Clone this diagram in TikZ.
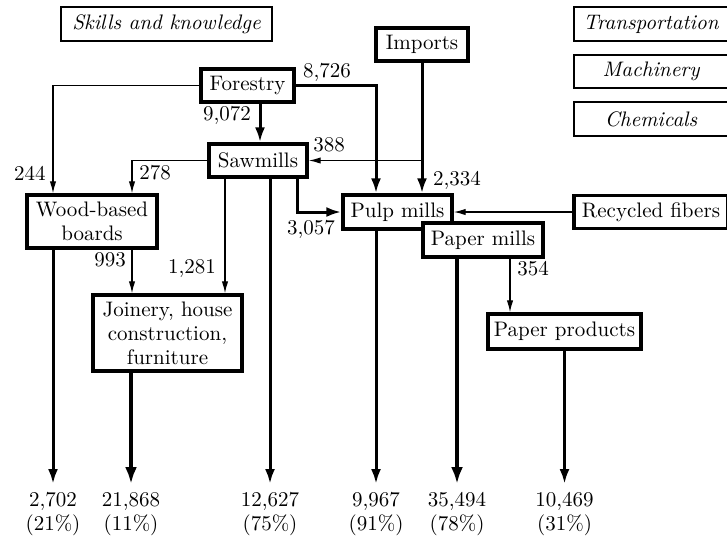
\documentclass[tikz,border=0pt]{standalone}
\usetikzlibrary{arrows.meta}

\newcommand{\flowsize}{\fontsize{10.5}{12}\selectfont}

\tikzset{
  unit/.style={draw, line width=1.7pt, fill=white, inner sep=1pt, align=center, font=\flowsize},
  factor/.style={draw, line width=1.2pt, fill=white, inner sep=1pt, font=\flowsize\itshape},
  amount/.style={inner sep=1pt, font=\flowsize},
  output/.style={anchor=north, inner xsep=1pt, inner ysep=4pt, align=center, font=\flowsize},
  thinflow/.style={line width=0.6pt, -{Latex[length=6pt,width=3.2pt]}},
  flow/.style={line width=1.5pt, -{Latex[length=7.5pt,width=5pt]}},
  bigflow/.style={line width=2.3pt, -{Latex[length=8.5pt,width=6pt]}}
}

\begin{document}
\begin{tikzpicture}[x=0.5pt, y=-0.5pt]
\useasboundingbox (0,0) rectangle (727,537);

% factors
\node[factor, minimum width=105.5pt, minimum height=17pt] (skills) at (166.5,24) {Skills and knowledge};
\node[factor, minimum width=77pt, minimum height=17pt] (transport) at (651,24) {Transportation};
\node[factor, minimum width=77pt, minimum height=16.5pt] (machinery) at (651,71.5) {Machinery};
\node[factor, minimum width=77pt, minimum height=17pt] (chemicals) at (651,119) {Chemicals};

% units
\node[unit, minimum width=46.5pt, minimum height=16.5pt] (forestry) at (247.5,85.5) {Forestry};
\node[unit, minimum width=46pt, minimum height=16.5pt] (imports) at (422,44.5) {Imports};
\node[unit, minimum width=49pt, minimum height=16.5pt] (sawmills) at (258,160.5) {Sawmills};
\node[unit, minimum width=65pt, minimum height=26.5pt] (boards) at (92,221.5) {Wood-based\\boards};
\node[unit, minimum width=74.5pt, minimum height=38pt] (joinery) at (167.5,333) {Joinery, house\\construction,\\furniture};
\node[unit, minimum width=54.5pt, minimum height=17pt] (pulp) at (397.5,212) {Pulp mills};
\node[unit, minimum width=60pt, minimum height=17pt] (paper) at (483,240) {Paper mills};
\node[unit, minimum width=77pt, minimum height=16.5pt] (recycled) at (651,212) {Recycled fibers};
\node[unit, minimum width=76.5pt, minimum height=17.5pt] (products) at (564.5,331.5) {Paper products};

% outputs
\node[output] (outboards) at (53,484) {2,702\\(21\%)};
\node[output] (outjoinery) at (131,484) {21,868\\(11\%)};
\node[output] (outsaw) at (270,484) {12,627\\(75\%)};
\node[output] (outpulp) at (376,484) {9,967\\(91\%)};
\node[output] (outpaper) at (457,484) {35,494\\(78\%)};
\node[output] (outproducts) at (564.5,484) {10,469\\(31\%)};

\coordinate (split) at (imports.south |- sawmills.east);

% flows
\draw[thinflow] (forestry.west) -| (53,0 |- boards.north);
\draw[flow] (forestry.south -| 260,0) -- (260,0 |- sawmills.north);
\draw[flow] (forestry.east) -| (376,0 |- pulp.north);
\draw[flow] (imports.south) -- (imports.south |- pulp.north);
\draw[thinflow] (split) -- (sawmills.east);
\draw[thinflow] (sawmills.west) -| (132,0 |- boards.north);
\draw[flow] (sawmills.south -| 297,0) |- (pulp.west);
\draw[thinflow] (sawmills.south -| 225,0) -- (225,0 |- joinery.north);
\draw[flow] (sawmills.south -| outsaw.north) -- (outsaw.north);
\draw[thinflow] (boards.south -| 132,0) -- (132,0 |- joinery.north);
\draw[flow] (boards.south -| outboards.north) -- (outboards.north);
\draw[bigflow] (joinery.south -| outjoinery.north) -- (outjoinery.north);
\draw[flow] (pulp.south -| outpulp.north) -- (outpulp.north);
\draw[bigflow] (paper.south -| outpaper.north) -- (outpaper.north);
\draw[thinflow] (paper.south -| 510,0) -- (510,0 |- products.north);
\draw[thinflow] (recycled.west) -- (pulp.east);
\draw[flow] (products.south) -- (outproducts.north);

% amounts
\node[amount] (n244) at (30,173) {244};
\node[amount] (n278) at (155,173) {278};
\node[amount] (n8726) at (327,72) {8,726};
\node[amount] (n9072) at (227,115) {9,072};
\node[amount] (n388) at (329,145) {388};
\node[amount] (n2334) at (457,180) {2,334};
\node[amount] (n3057) at (311,229) {3,057};
\node[amount] (n993) at (110,260) {993};
\node[amount] (n1281) at (192,269) {1,281};
\node[amount] (n354) at (533,269) {354};
\end{tikzpicture}
\end{document}
